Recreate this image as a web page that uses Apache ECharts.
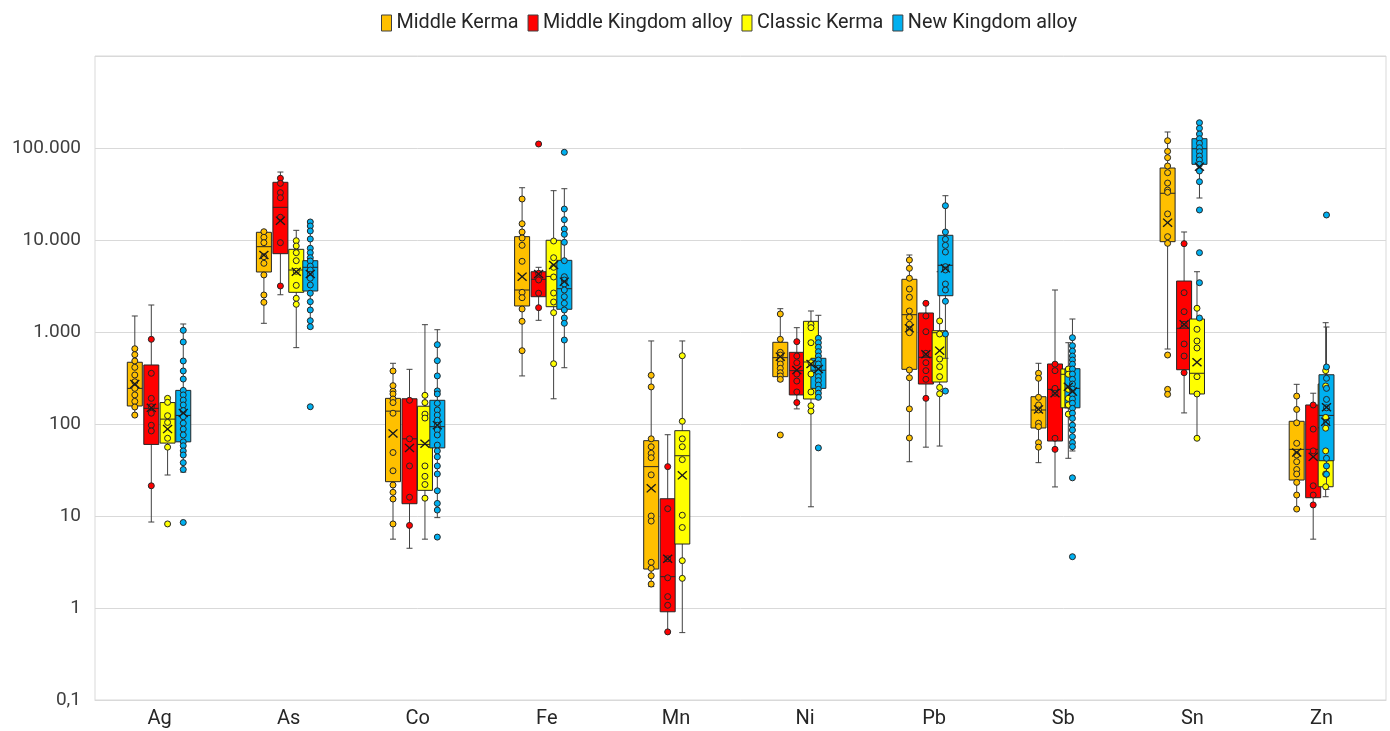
<!DOCTYPE html>
<html>
<head>
<meta charset="utf-8">
<title>Element concentrations</title>
<script src="https://cdn.jsdelivr.net/npm/echarts@6/dist/echarts.min.js"></script>
<style>
  html, body { margin: 0; padding: 0; background: #fff; }
  #chart { width: 1390px; height: 731px; }
</style>
</head>
<body>
<div id="chart"></div>
<script>
// categories
const elements = ['Ag', 'As', 'Co', 'Fe', 'Mn', 'Ni', 'Pb', 'Sb', 'Sn', 'Zn']
const groupNames = ['Middle Kerma', 'Middle Kingdom alloy', 'Classic Kerma', 'New Kingdom alloy']
const groupColors = ['#FFC000', '#FF0000', '#FFFF00', '#00B0F0']

// box stats per element: [min, Q1, median, Q3, max]
const middleKermaBox = [
  [125, 157, 244, 469, 1493], [1243, 4490, 8460, 12130, 12620], [5.6, 23.6, 138, 190, 457],
  [333, 1918, 2860, 10870, 37000], [1.71, 2.65, 34.4, 65.9, 799], [293, 327, 526, 773, 1792],
  [38.9, 393, 1542, 3740, 6870], [38, 90.5, 142, 198, 457], [653, 9590, 32200, 60600, 149300],
  [11.8, 24.6, 53, 107, 270]
]
const middleKingdomBox = [
  [8.6, 60, 148, 438, 1965], [2540, 7100, 22660, 42400, 54800], [4.46, 13.6, 69, 188, 393],
  [1340, 2420, 3740, 4520, 5050], [0.55, 0.91, 2.19, 15.4, 76.5], [146, 207, 380, 601, 1114],
  [56, 272, 531, 1610, 2080], [20.7, 65.3, 238, 449, 2860], [132, 389, 1097, 3580, 12220],
  [5.6, 15.8, 53, 161, 216]
]
const classicKermaBox = [
  [27.9, 62, 113, 171, 195], [676, 2700, 4720, 7920, 12740], [5.6, 19, 60, 156, 1201],
  [188, 1884, 4020, 9930, 34360], [0.54, 4.96, 45.2, 84.6, 799], [12.6, 187, 472, 1307, 1692],
  [57.6, 286, 982, 1033, 4520], [42.4, 150, 347, 396, 765], [70, 212, 356, 1384, 4520],
  [16.2, 20.8, 91, 272, 1262]
]
const newKingdomBox = [
  [30, 64, 124, 232, 1222], [1097, 2790, 5050, 5960, 15960], [9.6, 55, 93.5, 181, 1059],
  [409, 1766, 2955, 6010, 36100], null, [193, 244, 384, 518, 1519],
  [518, 2480, 5310, 11250, 30300], [50.9, 150, 244, 399, 1384], [28600, 66500, 98200, 126200, 191800],
  [19.5, 39.9, 124, 343, 1133]
]

// means (x marks)
const middleKermaMean = [272, 6870, 79, 3990, 20, 539, 1097, 144, 15420, 49]
const middleKingdomMean = [150, 16200, 55, 4270, 3.43, 386, 573, 216, 1213, 44]
const classicKermaMean = [88, 4520, 61, 5350, 27.7, 449, 626, 254, 469, 106]
const newKingdomMean = [132, 4270, 97, 3520, null, 396, 4920, 225, 62600, 152]

// single samples
const middleKermaPoints = [
  [658, 567, 484, 413, 341, 288, 244, 207, 176, 153, 125],
  [12300, 10700, 9350, 6580, 5580, 4170, 2525, 2100],
  [377, 261, 227, 212, 187, 171, 131, 49, 31, 21.7, 18.1, 15.3, 8.2],
  [27900, 15030, 12220, 10510, 8750, 5870, 2700, 2360, 1778, 1307, 626],
  [338, 253, 69, 56.6, 48, 43, 28, 10, 8.8, 3.14, 2.7, 2.24, 1.82],
  [1570, 833, 601, 562, 496, 449, 403, 361, 333, 306, 76],
  [6060, 4920, 3840, 2930, 2385, 1692, 1445, 1213, 1070, 982, 386, 318, 146, 70.5],
  [356, 314, 195, 161, 142, 102, 93.5, 62.7, 56],
  [120000, 92000, 78500, 63700, 53900, 41600, 34900, 33000, 19200, 10870, 9200, 562, 238, 210],
  [201, 144, 103, 61.7, 46, 38.9, 32, 28.6, 23.2, 16.9, 11.9]
]
const middleKingdomPoints = [
  [833, 356, 190, 154, 131, 97, 84, 21.3],
  [46900, 41300, 32700, 28800, 17660, 9350, 3162],
  [181, 69, 35, 16, 7.9],
  [110500, 4350, 3675, 2640, 1837],
  [34.4, 12, 3.43, 2.13, 1.33, 1.07, 0.55],
  [785, 548, 464, 349, 293, 223, 171],
  [2050, 1493, 1008, 587, 464, 380, 306, 190],
  [447, 380, 244, 216, 70, 53],
  [9120, 2675, 1663, 1213, 741, 548, 361],
  [161, 88, 51, 21.3, 16.9, 13.2]
]
const classicKermaPoints = [
  [190, 172, 123, 104, 70, 56, 8.2],
  [9820, 8610, 7280, 5960, 4570, 3214, 2323, 2000],
  [205, 171, 128, 116, 35, 27, 22, 15.6],
  [9750, 6420, 5050, 3960, 2654, 2118, 1622, 452],
  [552, 107, 69, 56.6, 41, 10.2, 7.5, 3.27, 2.1],
  [1213, 1114, 765, 464, 349, 223, 158, 138],
  [1318, 951, 509, 420, 327, 250, 213],
  [396, 347, 238, 190, 161, 128],
  [1811, 1070, 799, 670, 327, 212, 70],
  [380, 259, 118, 90, 51, 28.6, 20.8]
]
const newKingdomPoints = [
  [1043, 779, 484, 377, 308, 232, 207, 182, 161, 140, 120, 102, 88, 76, 64, 58, 51, 46, 38, 32, 8.5],
  [15700, 14200, 12530, 10250, 8130, 7280, 6420, 5910, 5210, 4720, 4240, 3840, 3240, 2640, 2135, 1735, 1327, 1142, 154],
  [728, 488, 333, 229, 212, 168, 142, 125, 110, 97, 86, 76, 59, 51, 44, 35, 28.6, 18.8, 13.7, 11.6, 5.9],
  [89800, 21700, 16630, 13170, 11530, 9440, 5960, 3990, 3675, 3325, 2860, 2420, 2050, 1735, 1420, 1243, 818],
  [],
  [854, 765, 682, 611, 548, 496, 449, 403, 361, 327, 296, 265, 238, 216, 195, 55],
  [23600, 12220, 10180, 8750, 7400, 5130, 4720, 3325, 2860, 2157, 951, 228],
  [867, 710, 621, 548, 496, 447, 396, 349, 306, 272, 240, 210, 187, 168, 148, 131, 115, 97, 86, 72.8, 62.7, 56.6, 26, 3.61],
  [188300, 163700, 141900, 126200, 112500, 100700, 91200, 81800, 74100, 66500, 56200, 43000, 21200, 7280, 3435, 1420],
  [18700, 417, 314, 244, 185, 150, 104, 42.4, 35, 28.4]
]

const boxes = [middleKermaBox, middleKingdomBox, classicKermaBox, newKingdomBox]
const means = [middleKermaMean, middleKingdomMean, classicKermaMean, newKingdomMean]
const points = [middleKermaPoints, middleKingdomPoints, classicKermaPoints, newKingdomPoints]

// layout: one shifted grid per group so the boxes sit side by side
const gridLeft = 95
const gridWidth = 1291
const gridTop = 56
const gridBottom = 31
const slotOffsets = [-24.75, -8.25, 8.25, 24.75]
const fontFamily = 'Roboto, "Noto Sans", sans-serif'

const chart = echarts.init(document.getElementById('chart'))

function fmtLog (v) {
  const e = Math.round(Math.log10(v))
  if (e >= 6) return ''
  if (e < 0) return '0,1'
  return String(Math.pow(10, e)).replace(/\B(?=(\d{3})+(?!\d))/g, '.')
}

function renderBox (params, api) {
  const cat = api.value(0)
  const x = api.coord([cat, api.value(3)])[0]
  const y = [1, 2, 3, 4, 5].map(d => api.coord([cat, api.value(d)])[1])
  const half = 7.5
  const cap = 3
  const line = { stroke: '#404040', lineWidth: 1 }
  return {
    type: 'group',
    children: [
      { type: 'line', shape: { x1: x, y1: y[4], x2: x, y2: y[0] }, style: line },
      { type: 'line', shape: { x1: x - cap, y1: y[4], x2: x + cap, y2: y[4] }, style: line },
      { type: 'line', shape: { x1: x - cap, y1: y[0], x2: x + cap, y2: y[0] }, style: line },
      {
        type: 'rect',
        shape: { x: x - half, y: y[3], width: half * 2, height: y[1] - y[3] },
        style: { fill: api.visual('color'), stroke: '#262626', lineWidth: 1 }
      },
      { type: 'line', shape: { x1: x - half, y1: y[2], x2: x + half, y2: y[2] }, style: { stroke: '#262626', lineWidth: 1 } }
    ]
  }
}

const grids = [{ left: gridLeft, width: gridWidth, top: gridTop, bottom: gridBottom, show: true, borderColor: '#d9d9d9', borderWidth: 1 }]
const xAxes = [{
  type: 'category',
  gridIndex: 0,
  data: elements,
  axisLine: { lineStyle: { color: '#d9d9d9' } },
  axisTick: { show: false },
  axisLabel: { fontSize: 20, color: '#262626', fontFamily: fontFamily, margin: 9 }
}]
const yAxes = [{
  type: 'log',
  gridIndex: 0,
  logBase: 10,
  min: 0.1,
  max: 1000000,
  axisLine: { show: false },
  axisTick: { show: false },
  splitLine: { lineStyle: { color: '#d9d9d9', width: 1 } },
  axisLabel: { fontSize: 19, color: '#404040', fontFamily: fontFamily, margin: 14, formatter: fmtLog }
}]
const series = []

groupNames.forEach((name, g) => {
  const idx = g + 1
  grids.push({ left: gridLeft + slotOffsets[g], width: gridWidth, top: gridTop, bottom: gridBottom })
  xAxes.push({ type: 'category', gridIndex: idx, data: elements, show: false })
  yAxes.push({ type: 'log', gridIndex: idx, logBase: 10, min: 0.1, max: 1000000, show: false })

  const boxData = []
  const meanData = []
  const pointData = []
  elements.forEach((el, i) => {
    if (boxes[g][i]) boxData.push([i].concat(boxes[g][i]))
    if (means[g][i] != null) meanData.push([i, means[g][i]])
    points[g][i].forEach(v => pointData.push([i, v]))
  })

  series.push({
    name: name,
    type: 'custom',
    xAxisIndex: idx,
    yAxisIndex: idx,
    itemStyle: { color: groupColors[g] },
    encode: { x: 0, y: [1, 2, 3, 4, 5] },
    renderItem: renderBox,
    data: boxData,
    z: 2
  })
  series.push({
    name: name,
    type: 'scatter',
    xAxisIndex: idx,
    yAxisIndex: idx,
    symbol: 'circle',
    symbolSize: 6,
    itemStyle: { color: groupColors[g], borderColor: '#262626', borderWidth: 1, opacity: 1 },
    data: pointData,
    z: 3
  })
  series.push({
    name: name,
    type: 'scatter',
    xAxisIndex: idx,
    yAxisIndex: idx,
    symbol: 'path://M0,1L1,0L5,4L9,0L10,1L6,5L10,9L9,10L5,6L1,10L0,9L4,5Z',
    symbolSize: [10, 9],
    itemStyle: { color: '#1a1a1a', opacity: 1 },
    data: meanData,
    z: 4
  })
})

const option = {
  backgroundColor: '#fff',
  animation: false,
  legend: {
    top: 8,
    left: 376,
    itemWidth: 10,
    itemHeight: 16,
    itemGap: 9,
    selectedMode: false,
    textStyle: { fontSize: 19.8, color: '#262626', fontFamily: fontFamily },
    data: groupNames.map((name, g) => ({
      name: name,
      icon: 'rect',
      itemStyle: { color: groupColors[g], borderColor: '#404040', borderWidth: 1 }
    }))
  },
  grid: grids,
  xAxis: xAxes,
  yAxis: yAxes,
  series: series
}

chart.setOption(option)
</script>
</body>
</html>
